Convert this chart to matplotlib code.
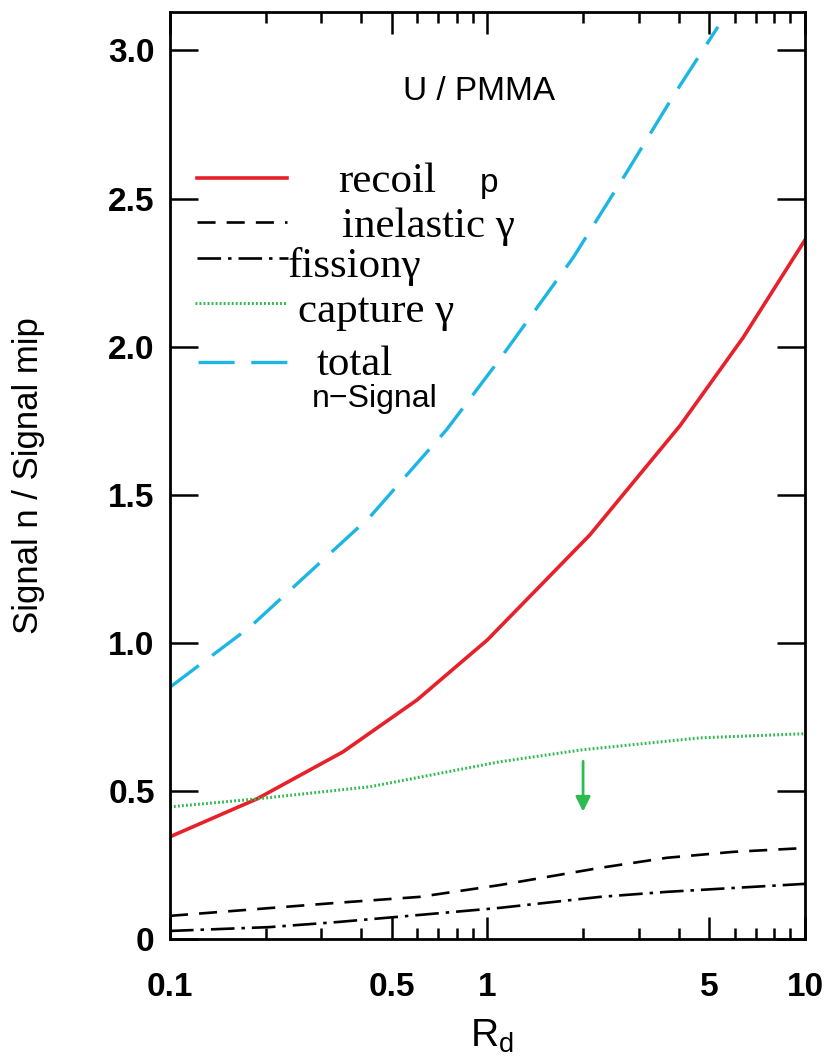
import numpy as np
import matplotlib.pyplot as plt
from matplotlib.lines import Line2D
from matplotlib.ticker import FixedLocator, NullFormatter

plt.rcParams['lines.scale_dashes'] = False

# values
rd_total = [0.1, 0.179, 0.427, 0.744, 1.094, 1.86, 2.75, 3.84, 5.32]
sig_total = [0.85, 1.054, 1.426, 1.72, 1.958, 2.30, 2.59, 2.845, 3.08]

rd_recoil = [0.1, 0.188, 0.351, 0.6, 1.0, 2.1, 4.04, 6.38, 10]
sig_recoil = [0.345, 0.473, 0.632, 0.807, 1.01, 1.364, 1.733, 2.03, 2.36]

rd_capture = [0.1, 0.188, 0.427, 1.09, 2.0, 4.67, 10]
sig_capture = [0.446, 0.473, 0.514, 0.598, 0.639, 0.679, 0.693]

rd_inel = [0.1, 0.336, 0.61, 1.094, 2.26, 3.67, 5.93, 10]
sig_inel = [0.078, 0.122, 0.142, 0.182, 0.24, 0.274, 0.294, 0.307]

rd_fission = [0.1, 0.206, 0.336, 0.61, 1.094, 2.26, 3.67, 5.93, 10]
sig_fission = [0.027, 0.04, 0.057, 0.081, 0.105, 0.142, 0.159, 0.172, 0.186]

arrow_rd = 2.0
arrow_sig = (0.60, 0.43)

xticks = [0.1, 0.5, 1, 5, 10]
xticklabels = ['0.1', '0.5', '1', '5', '10']
xminor = [0.2, 0.3, 0.4, 0.6, 0.7, 0.8, 0.9, 2, 3, 4, 6, 7, 8, 9]
yticks = [0, 0.5, 1.0, 1.5, 2.0, 2.5, 3.0]
yticklabels = ['0', '0.5', '1.0', '1.5', '2.0', '2.5', '3.0']

RED = '#e8202a'
CYAN = '#1cb6e4'
GREEN = '#2dbb4e'

styles = {
    'recoil': dict(color=RED, lw=2.6, ls='-'),
    'inel': dict(color='black', lw=1.9, dashes=(13, 8)),
    'fission': dict(color='black', lw=1.9, dashes=(17, 5, 2.5, 5)),
    'capture': dict(color=GREEN, lw=2.2, dashes=(1.3, 1.6)),
    'total': dict(color=CYAN, lw=2.4, dashes=(26, 12)),
}

fig = plt.figure(figsize=(8.34, 10.6), dpi=100)
ax = fig.add_axes([0.2038, 0.1142, 0.7614, 0.8745])

ax.plot(rd_total, sig_total, **styles['total'])
ax.plot(rd_recoil, sig_recoil, **styles['recoil'])
ax.plot(rd_capture, sig_capture, **styles['capture'])
ax.plot(rd_inel, sig_inel, **styles['inel'])
ax.plot(rd_fission, sig_fission, **styles['fission'])

ax.annotate('', xy=(arrow_rd, arrow_sig[1]), xytext=(arrow_rd, arrow_sig[0]),
            arrowprops=dict(arrowstyle='-|>', color=GREEN, lw=2,
                            mutation_scale=22, shrinkA=0, shrinkB=0))

ax.set_xscale('log')
ax.set_xlim(0.1, 10)
ax.set_ylim(0, 3.13)

ax.xaxis.set_major_locator(FixedLocator(xticks))
ax.set_xticklabels(xticklabels)
ax.xaxis.set_minor_locator(FixedLocator(xminor))
ax.xaxis.set_minor_formatter(NullFormatter())
ax.set_yticks(yticks)
ax.set_yticklabels(yticklabels)

for lab in ax.get_xticklabels() + ax.get_yticklabels():
    lab.set_fontfamily('Liberation Sans')
    lab.set_fontweight('bold')
    lab.set_fontsize(24)

ax.tick_params(axis='x', which='major', direction='in', length=16, width=1.8,
               top=True, pad=24)
ax.tick_params(axis='x', which='minor', direction='in', length=8, width=1.8,
               top=True)
ax.tick_params(axis='y', which='major', direction='in', length=20, width=1.8,
               right=True, pad=11)
for s in ax.spines.values():
    s.set_linewidth(2)

ax.set_ylabel('Signal n / Signal mip', fontfamily='Liberation Sans', fontsize=25)
ax.yaxis.set_label_coords(-0.197, 0.5)
ax.set_xlabel(r'$\mathregular{R_d}$', fontfamily='Liberation Sans', fontsize=28,
              va='center')
ax.xaxis.set_label_coords(0.507, -0.105)

# hand-drawn key
tr = ax.transAxes
key = [
    ('recoil', 0.821, 0.043, 0.184),
    ('inel', 0.773, 0.043, 0.184),
    ('fission', 0.735, 0.043, 0.186),
    ('capture', 0.686, 0.040, 0.184),
    ('total', 0.622, 0.044, 0.192),
]
for name, yk, x0, x1 in key:
    ax.add_line(Line2D([x0, x1], [yk, yk], transform=tr, **styles[name]))

serif = dict(fontfamily='Liberation Serif', fontsize=31, transform=tr,
             va='baseline', ha='left')
ax.text(0.265, 0.806, 'recoil', **serif)
ax.text(0.271, 0.757, 'inelastic γ', **serif)
ax.text(0.186, 0.714, 'fissionγ', **serif)
ax.text(0.202, 0.666, 'capture γ', **serif)
ax.text(0.231, 0.608, 'total', **serif)
ax.text(0.488, 0.806, 'p', fontfamily='Liberation Sans', fontsize=24,
        transform=tr, va='baseline')
ax.text(0.224, 0.574, 'n\u2212Signal', fontfamily='Liberation Sans', fontsize=23,
        transform=tr, va='baseline')
ax.text(0.367, 0.905, 'U / PMMA', fontfamily='Liberation Sans', fontsize=24,
        transform=tr, va='baseline')

fig.savefig('out.png', dpi=100)
